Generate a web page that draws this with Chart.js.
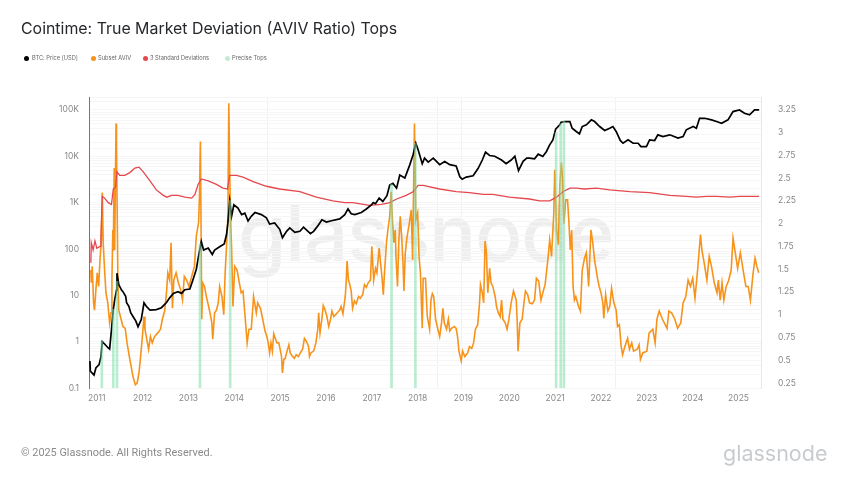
<!DOCTYPE html>
<html>
<head>
<meta charset="utf-8">
<title>Cointime: True Market Deviation (AVIV Ratio) Tops</title>
<script src="https://cdn.jsdelivr.net/npm/chart.js@4"></script>
<style>
  html, body { margin: 0; padding: 0; background: #fff; }
  #page { position: relative; width: 850px; height: 478px; overflow: hidden; font-family: Inter, sans-serif; }
  #page div { position: absolute; white-space: nowrap; }
  canvas { position: absolute; left: 0; top: 0; }
  #title { left: 21px; top: 19px; font-size: 15.9px; color: #26282c; }
  .legend { top: 54px; font-size: 5.7px; line-height: 8px; color: #666; }
  .dot { top: 55.5px; width: 5px; height: 5px; border-radius: 50%; }
  #watermark { left: 238px; top: 178px; font-size: 78px; line-height: 110px; color: #eeeeee; font-weight: 500; letter-spacing: -1px; }
  #copy { left: 21px; top: 446px; font-family: Roboto, sans-serif; font-size: 10.9px; color: #8a8a8a; }
  #logo { left: 723px; top: 440px; font-size: 21.5px; color: #c9cccf; }
</style>
</head>
<body>
<div id="page">
  <div id="watermark">glassnode</div>
  <canvas id="chart" width="850" height="478"></canvas>
  <div id="title">Cointime: True Market Deviation (AVIV Ratio) Tops</div>
  <div class="dot" style="left:24px;background:#000"></div><div class="legend" style="left:32px">BTC: Price [USD]</div>
  <div class="dot" style="left:91px;background:#f7931a"></div><div class="legend" style="left:98px">Subset AVIV</div>
  <div class="dot" style="left:143px;background:#e5484d"></div><div class="legend" style="left:150px">3 Standard Deviations</div>
  <div class="dot" style="left:225px;background:#c3ebd3"></div><div class="legend" style="left:232px">Precise Tops</div>
  <div id="copy">© 2025 Glassnode. All Rights Reserved.</div>
  <div id="logo">glassnode</div>
</div>
<script>
// BTC price, left log axis
const priceYears = [2010.85,2010.86,2010.90,2010.94,2010.98,2011.05,2011.09,2011.12,2011.17,2011.25,2011.28,2011.32,2011.36,2011.39,2011.43,2011.44,2011.48,2011.54,2011.57,2011.63,2011.65,2011.70,2011.74,2011.79,2011.85,2011.90,2011.97,2012.03,2012.08,2012.16,2012.30,2012.41,2012.52,2012.59,2012.67,2012.77,2012.85,2012.92,2013.03,2013.10,2013.17,2013.23,2013.28,2013.33,2013.43,2013.52,2013.57,2013.68,2013.78,2013.83,2013.86,2013.90,2013.94,2013.99,2014.08,2014.16,2014.23,2014.30,2014.37,2014.45,2014.59,2014.70,2014.77,2014.88,2014.99,2015.05,2015.14,2015.21,2015.32,2015.43,2015.51,2015.66,2015.73,2015.84,2015.91,2016.01,2016.12,2016.30,2016.41,2016.48,2016.55,2016.63,2016.77,2016.88,2016.99,2017.03,2017.08,2017.16,2017.24,2017.33,2017.39,2017.46,2017.54,2017.61,2017.72,2017.83,2017.90,2017.96,2018.01,2018.10,2018.15,2018.23,2018.34,2018.48,2018.59,2018.70,2018.84,2018.92,2018.97,2019.06,2019.21,2019.32,2019.41,2019.48,2019.57,2019.68,2019.83,2019.93,2020.04,2020.12,2020.20,2020.30,2020.38,2020.44,2020.55,2020.63,2020.73,2020.81,2020.88,2020.95,2021.01,2021.10,2021.13,2021.21,2021.32,2021.37,2021.46,2021.53,2021.59,2021.68,2021.79,2021.86,2021.97,2022.08,2022.19,2022.26,2022.33,2022.42,2022.48,2022.59,2022.70,2022.81,2022.87,2022.99,2023.06,2023.17,2023.24,2023.35,2023.50,2023.68,2023.79,2023.86,2024.01,2024.08,2024.15,2024.26,2024.41,2024.52,2024.63,2024.77,2024.88,2025.02,2025.13,2025.24,2025.35,2025.45];
const priceValues = [0.38,0.23,0.21,0.19,0.27,0.32,0.47,1.0,0.89,0.73,0.69,1.8,4.9,8,13,30,17,13,12,9.5,6.9,5.8,4.2,3.5,2.8,2.1,3,6.9,5.8,4.8,4.9,5.4,7,8.8,11,12,11,13.2,13.7,22,36,80,145,95,105,76,95,112,128,205,360,1070,505,900,760,550,590,400,505,610,550,470,345,365,265,175,240,285,228,240,295,214,240,333,427,380,407,445,550,730,575,550,610,730,890,1000,945,1250,1060,1410,2400,2600,2050,3950,3400,6600,10800,19100,13800,6900,9100,7500,9100,6600,7700,6600,6200,3600,3200,3560,3800,5500,8300,12300,10400,10000,8300,6900,8300,10000,4900,7800,9100,9100,8800,11100,9900,12700,17600,22600,38400,47600,54300,56100,56100,40300,34200,30400,43800,47600,61000,56100,43800,35900,40300,43800,34200,22000,19100,22600,19100,19100,16200,16200,22600,21900,29000,26700,29000,24600,26700,37200,43800,40300,66000,66000,61000,56100,51600,61000,92000,100000,84700,78200,100000,100000];

// Subset AVIV, right linear axis
const avivYears = [2010.87,2010.88,2010.90,2010.93,2010.95,2010.98,2011.01,2011.04,2011.07,2011.10,2011.12,2011.14,2011.17,2011.20,2011.24,2011.28,2011.31,2011.33,2011.35,2011.36,2011.38,2011.39,2011.42,2011.43,2011.46,2011.48,2011.53,2011.57,2011.62,2011.66,2011.71,2011.75,2011.79,2011.84,2011.88,2011.92,2011.95,2011.99,2012.03,2012.05,2012.09,2012.13,2012.17,2012.21,2012.26,2012.33,2012.39,2012.43,2012.48,2012.52,2012.55,2012.59,2012.62,2012.65,2012.68,2012.73,2012.78,2012.83,2012.87,2012.91,2012.96,2013.01,2013.07,2013.13,2013.17,2013.22,2013.24,2013.26,2013.29,2013.31,2013.35,2013.39,2013.44,2013.47,2013.51,2013.53,2013.57,2013.61,2013.65,2013.68,2013.73,2013.77,2013.80,2013.83,2013.86,2013.88,2013.90,2013.92,2013.94,2013.97,2014.01,2014.06,2014.11,2014.15,2014.19,2014.24,2014.28,2014.32,2014.37,2014.42,2014.48,2014.51,2014.57,2014.62,2014.67,2014.71,2014.74,2014.77,2014.80,2014.83,2014.86,2014.90,2014.93,2014.97,2015.00,2015.03,2015.05,2015.08,2015.11,2015.15,2015.19,2015.22,2015.27,2015.31,2015.35,2015.40,2015.44,2015.49,2015.53,2015.57,2015.62,2015.64,2015.67,2015.73,2015.78,2015.82,2015.84,2015.87,2015.91,2015.94,2015.98,2016.02,2016.06,2016.10,2016.13,2016.17,2016.21,2016.26,2016.30,2016.33,2016.37,2016.42,2016.44,2016.46,2016.49,2016.52,2016.55,2016.58,2016.62,2016.66,2016.71,2016.75,2016.80,2016.84,2016.88,2016.92,2016.97,2017.00,2017.04,2017.08,2017.11,2017.16,2017.19,2017.22,2017.25,2017.28,2017.32,2017.35,2017.39,2017.42,2017.45,2017.48,2017.51,2017.53,2017.56,2017.59,2017.62,2017.65,2017.68,2017.70,2017.73,2017.77,2017.82,2017.86,2017.89,2017.93,2017.96,2018.00,2018.03,2018.06,2018.10,2018.12,2018.17,2018.21,2018.26,2018.29,2018.32,2018.35,2018.39,2018.44,2018.48,2018.52,2018.55,2018.58,2018.63,2018.67,2018.70,2018.74,2018.80,2018.84,2018.87,2018.90,2018.95,2018.98,2019.03,2019.09,2019.13,2019.18,2019.22,2019.26,2019.31,2019.35,2019.37,2019.41,2019.44,2019.47,2019.50,2019.53,2019.57,2019.60,2019.64,2019.69,2019.72,2019.76,2019.80,2019.83,2019.86,2019.91,2019.95,2019.99,2020.04,2020.09,2020.15,2020.17,2020.19,2020.23,2020.28,2020.31,2020.35,2020.40,2020.44,2020.50,2020.55,2020.59,2020.64,2020.69,2020.73,2020.78,2020.84,2020.88,2020.92,2020.97,2020.99,2021.03,2021.07,2021.10,2021.135,2021.16,2021.19,2021.23,2021.27,2021.30,2021.33,2021.36,2021.39,2021.42,2021.45,2021.51,2021.55,2021.59,2021.64,2021.68,2021.73,2021.78,2021.82,2021.86,2021.93,2021.96,2022.00,2022.04,2022.06,2022.10,2022.15,2022.19,2022.23,2022.28,2022.33,2022.36,2022.40,2022.44,2022.47,2022.52,2022.58,2022.62,2022.67,2022.71,2022.79,2022.83,2022.86,2022.91,2023.00,2023.05,2023.13,2023.18,2023.22,2023.27,2023.34,2023.44,2023.48,2023.54,2023.61,2023.67,2023.74,2023.79,2023.85,2023.90,2023.95,2024.00,2024.05,2024.11,2024.17,2024.20,2024.25,2024.31,2024.36,2024.41,2024.47,2024.53,2024.56,2024.60,2024.64,2024.68,2024.73,2024.78,2024.84,2024.88,2024.92,2024.98,2025.04,2025.10,2025.16,2025.21,2025.26,2025.31,2025.36,2025.40,2025.44];
const avivValues = [1.49,1.35,1.53,1.13,1.05,1.27,1.46,1.31,1.60,1.82,2.34,1.79,1.49,1.24,1.13,0.91,1.02,1.38,1.93,1.70,2.61,1.71,3.10,2.88,1.38,1.05,0.95,0.87,0.85,0.69,0.54,0.43,0.32,0.23,0.25,0.36,0.51,0.73,0.98,0.84,0.73,0.62,0.76,0.69,0.76,0.80,0.84,0.95,1.04,1.24,1.46,1.38,1.79,1.07,1.38,1.46,1.35,1.27,1.16,1.42,1.38,1.31,1.42,1.53,1.86,2.01,2.30,2.90,0.95,1.35,1.31,1.20,1.09,1.02,0.91,0.73,1.02,1.05,1.13,1.31,1.20,1.00,1.46,1.75,2.08,3.32,2.56,2.01,1.75,1.09,1.53,1.49,1.35,1.24,1.26,0.95,0.69,0.84,0.84,1.20,1.02,1.13,1.07,0.95,0.82,0.76,0.69,0.58,0.69,0.60,0.79,0.73,0.69,0.69,0.62,0.54,0.36,0.51,0.52,0.60,0.67,0.58,0.54,0.52,0.56,0.54,0.58,0.62,0.74,0.71,0.65,0.54,0.58,0.60,0.69,0.84,1.02,0.80,0.95,1.10,1.05,0.98,0.87,0.95,1.04,0.98,1.00,1.03,1.05,1.09,1.01,1.20,1.35,1.59,1.38,1.33,1.26,1.07,1.15,1.12,1.20,1.18,1.22,1.33,1.30,1.35,1.38,1.75,1.38,1.51,1.46,1.73,1.57,1.42,1.22,1.49,1.79,1.93,2.08,2.35,2.04,1.79,1.93,1.60,1.31,1.82,2.08,1.86,1.57,1.26,1.68,1.86,2.01,2.15,1.60,3.10,2.04,2.12,1.64,1.46,0.85,1.40,1.40,0.98,0.84,1.16,1.23,1.20,0.95,0.84,0.76,0.91,1.07,0.91,0.84,0.95,0.82,0.85,0.87,0.85,0.76,0.60,0.49,0.60,0.54,0.58,0.65,0.63,0.69,0.84,0.89,1.13,1.33,1.24,1.13,1.81,1.68,1.24,1.51,1.35,1.31,1.20,1.09,1.02,0.98,1.16,0.95,0.91,0.84,0.95,1.13,1.26,1.16,0.95,0.60,0.91,0.95,1.09,1.26,1.22,1.13,1.12,1.16,1.40,1.37,1.16,1.24,1.33,1.60,1.82,1.64,2.12,2.59,1.93,1.77,2.41,2.67,2.50,2.00,2.26,2.26,2.01,1.71,1.93,1.31,1.16,1.20,1.09,1.04,1.49,1.62,1.68,1.31,1.93,1.79,1.60,1.38,1.31,1.24,1.13,0.96,1.22,1.04,1.09,1.29,1.13,1.05,0.87,0.89,0.65,0.56,0.65,0.74,0.62,0.69,0.60,0.62,0.67,0.51,0.58,0.60,0.80,0.84,0.69,0.95,1.04,0.95,0.85,1.04,1.02,0.95,0.85,0.91,1.13,1.20,1.38,1.31,1.40,1.18,1.51,1.88,1.71,1.57,1.38,1.64,1.53,1.35,1.24,1.38,1.16,1.35,1.16,1.31,1.37,1.49,1.84,1.71,1.51,1.68,1.49,1.31,1.31,1.16,1.42,1.62,1.53,1.46];

// 3 standard deviations, right linear axis
const stdYears = [2010.87,2010.88,2010.92,2010.96,2011.00,2011.07,2011.09,2011.12,2011.17,2011.25,2011.32,2011.36,2011.41,2011.44,2011.50,2011.61,2011.72,2011.83,2011.92,2012.01,2012.16,2012.30,2012.45,2012.53,2012.63,2012.77,2012.92,2013.07,2013.14,2013.21,2013.28,2013.43,2013.61,2013.75,2013.85,2013.90,2014.05,2014.19,2014.41,2014.70,2014.99,2015.43,2015.79,2016.15,2016.41,2016.59,2016.95,2017.21,2017.39,2017.54,2017.75,2017.90,2018.01,2018.12,2018.48,2018.84,2019.13,2019.43,2019.64,2020.00,2020.44,2020.66,2020.88,2021.03,2021.17,2021.32,2021.46,2021.64,2021.90,2022.19,2022.63,2023.06,2023.50,2023.86,2024.08,2024.30,2024.52,2024.81,2025.02,2025.45];
const stdValues = [1.57,1.79,1.71,1.81,1.73,1.75,1.86,2.30,2.28,2.23,2.21,2.38,2.40,2.57,2.53,2.53,2.56,2.61,2.62,2.57,2.47,2.37,2.31,2.29,2.31,2.31,2.29,2.28,2.32,2.43,2.49,2.47,2.43,2.39,2.38,2.53,2.53,2.51,2.46,2.41,2.38,2.35,2.29,2.25,2.23,2.23,2.20,2.21,2.23,2.27,2.31,2.35,2.42,2.42,2.38,2.35,2.34,2.32,2.32,2.29,2.27,2.25,2.25,2.29,2.35,2.39,2.39,2.38,2.39,2.37,2.35,2.34,2.31,2.30,2.29,2.30,2.30,2.29,2.30,2.30];

// precise tops, bars reach up to the price
const topYears = [2011.11,2011.36,2011.44,2013.25,2013.91,2017.43,2017.95,2021.02,2021.12,2021.19];
const topValues = [1,5,20,130,1100,2500,19000,33000,50000,58000];

const yearTicks = [2011,2012,2013,2014,2015,2016,2017,2018,2019,2020,2021,2022,2023,2024,2025];
const gridYears = [2012.92,2016.52,2020.36,2024.28];
const leftLabels = {100000:'100K',10000:'10K',1000:'1K',100:'100',10:'10',1:'1',0.1:'0.1'};
const rightTicks = [0.25,0.5,0.75,1,1.25,1.5,1.75,2,2.25,2.5,2.75,3,3.25];

const toPoints = (xs, ys) => xs.map((x, i) => ({ x, y: ys[i] }));
const tickFont = { family: 'Inter', size: 8.5 };

new Chart(document.getElementById('chart'), {
    type: 'line',
    data: {
        datasets: [
            { type: 'bar', label: 'Precise Tops', data: toPoints(topYears, topValues), yAxisID: 'y', barThickness: 2, backgroundColor: 'rgba(130,220,170,0.55)', order: 0 },
            { label: 'BTC: Price [USD]', data: toPoints(priceYears, priceValues), yAxisID: 'y', borderColor: '#000', borderWidth: 1.7, order: 1 },
            { label: '3 Standard Deviations', data: toPoints(stdYears, stdValues), yAxisID: 'y2', borderColor: '#e5484d', borderWidth: 1.3, order: 2 },
            { label: 'Subset AVIV', data: toPoints(avivYears, avivValues), yAxisID: 'y2', borderColor: '#f7931a', borderWidth: 1.6, order: 3 }
        ]
    },
    options: {
        responsive: false,
        animation: false,
        devicePixelRatio: 1,
        layout: { padding: { top: 97, bottom: 60 } },
        elements: { point: { radius: 0 }, line: { tension: 0 } },
        plugins: { legend: { display: false }, title: { display: false }, tooltip: { enabled: false } },
        scales: {
            x: {
                type: 'linear',
                offset: false,
                min: 2010.83,
                max: 2025.49,
                afterBuildTicks: axis => { axis.ticks = yearTicks.concat(gridYears).map(value => ({ value })); },
                afterFit: axis => { axis.height = 30; },
                border: { display: false },
                grid: {
                    drawTicks: false,
                    color: ctx => gridYears.includes(ctx.tick && ctx.tick.value) ? '#f1f1f1' : 'rgba(0,0,0,0)'
                },
                ticks: {
                    autoSkip: false,
                    maxRotation: 0,
                    padding: 5,
                    color: '#888',
                    font: tickFont,
                    callback: v => yearTicks.includes(v) ? String(v) : ''
                }
            },
            y: {
                type: 'logarithmic',
                position: 'left',
                min: 0.1,
                max: 190000,
                afterFit: axis => { axis.width = 89; },
                border: { display: true, color: '#777', width: 1 },
                grid: { drawTicks: false, color: '#f6f6f6' },
                ticks: {
                    autoSkip: false,
                    padding: 10,
                    color: '#888',
                    font: tickFont,
                    callback: v => leftLabels[v] || ''
                }
            },
            y2: {
                type: 'linear',
                position: 'right',
                min: 0.195,
                max: 3.39,
                afterBuildTicks: axis => { axis.ticks = rightTicks.map(value => ({ value })); },
                afterFit: axis => { axis.width = 89; },
                border: { display: true, color: '#efe6d6', width: 1 },
                grid: { display: false },
                ticks: {
                    autoSkip: false,
                    padding: 9,
                    color: '#888',
                    font: tickFont,
                    callback: v => String(v)
                }
            }
        }
    }
});
</script>
</body>
</html>
